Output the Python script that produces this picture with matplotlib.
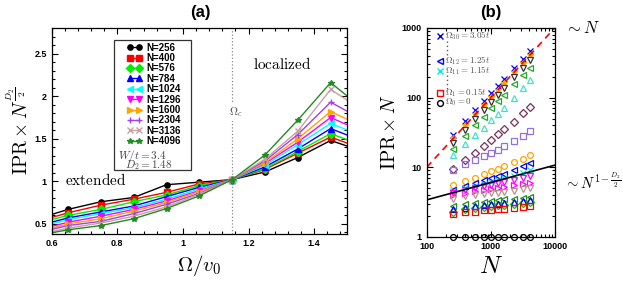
import numpy as np
import matplotlib
matplotlib.use("Agg")
import matplotlib.pyplot as plt
from matplotlib.ticker import AutoMinorLocator, FixedLocator, FixedFormatter
from matplotlib.patches import Rectangle

plt.rcParams['mathtext.fontset'] = 'cm'
plt.rcParams['font.family'] = ['Liberation Sans', 'DejaVu Sans']

# ---------------- panel (a) data ----------------
omega_a = [0.55, 0.65, 0.75, 0.85, 0.95, 1.05, 1.15, 1.25, 1.35, 1.45, 1.55]
sizes_a = ['N=256', 'N=400', 'N=576', 'N=784', 'N=1024', 'N=1296',
           'N=1600', 'N=2304', 'N=3136', 'N=4096']
ipr_a = [
    [0.55, 0.67, 0.76, 0.81, 0.96, 0.99, 1.02, 1.11, 1.28, 1.48, 1.35],
    [0.52, 0.63, 0.72, 0.79, 0.87, 0.97, 1.02, 1.14, 1.33, 1.52, 1.38],
    [0.50, 0.60, 0.67, 0.76, 0.84, 0.95, 1.02, 1.15, 1.35, 1.56, 1.42],
    [0.47, 0.57, 0.64, 0.71, 0.82, 0.93, 1.02, 1.17, 1.38, 1.62, 1.47],
    [0.45, 0.55, 0.62, 0.69, 0.79, 0.91, 1.02, 1.19, 1.43, 1.68, 1.53],
    [0.42, 0.52, 0.59, 0.67, 0.77, 0.89, 1.02, 1.21, 1.46, 1.75, 1.58],
    [0.40, 0.50, 0.56, 0.65, 0.75, 0.88, 1.02, 1.22, 1.50, 1.82, 1.64],
    [0.39, 0.48, 0.53, 0.62, 0.73, 0.86, 1.02, 1.24, 1.55, 1.93, 1.72],
    [0.37, 0.45, 0.51, 0.59, 0.70, 0.85, 1.02, 1.26, 1.59, 2.08, 1.83],
    [0.36, 0.43, 0.48, 0.56, 0.68, 0.83, 1.02, 1.31, 1.72, 2.16, 1.85],
]
colors_a = ['black', 'red', '#00ee00', 'blue', 'cyan', 'magenta',
            '#ffa500', '#a040f0', '#c8a0a0', '#228b22']
markers_a = ['o', 's', 'D', '^', '<', 'v', '>', '+', 'x', '*']

# ---------------- panel (b) data ----------------
n_b = [256, 400, 576, 784, 1024, 1296, 1600, 2304, 3136, 4096]
ipr_b = [
    [29, 46, 66, 90, 118, 149, 184, 265, 360, 470],        # Omega_30
    [26, 40, 58, 78, 102, 130, 160, 230, 314, 410],
    [22, 34, 49, 67, 87, 110, 136, 196, 266, 348],
    [18, 28, 40, 53, 70, 88, 108, 155, 210, 270],
    [15, 21.5, 29, 37, 47, 58, 72, 100, 136, 180],
    [9.4, 12.5, 16, 20, 25, 30, 35, 45, 60, 74],
    [9.0, 11, 12.5, 14.5, 16, 17.5, 20, 24, 28, 33],
    [5.5, 6.3, 7.1, 8.0, 8.7, 9.5, 10.3, 11.8, 13.2, 15],
    [4.7, 5.3, 6.0, 6.5, 7.0, 7.6, 8.1, 9.2, 10.3, 11.5],  # Omega_12
    [4.5, 5.0, 5.4, 5.8, 6.1, 6.5, 6.9, 7.6, 8.3, 9.0],    # Omega_11
    [4.3, 4.7, 5.0, 5.3, 5.6, 5.9, 6.1, 6.6, 7.1, 7.6],
    [4.0, 4.3, 4.5, 4.7, 4.9, 5.1, 5.2, 5.5, 5.7, 6.0],
    [3.5, 3.8, 4.0, 4.1, 4.2, 4.3, 4.4, 4.6, 4.8, 5.0],
    [2.8, 3.0, 3.1, 3.2, 3.3, 3.4, 3.5, 3.5, 3.6, 3.7],
    [2.3, 2.5, 2.6, 2.7, 2.8, 2.9, 2.9, 3.0, 3.1, 3.2],
    [2.5, 2.6, 2.8, 2.9, 3.0, 3.0, 3.1, 3.2, 3.3, 3.4],
    [2.15, 2.25, 2.25, 2.4, 2.45, 2.5, 2.55, 2.6, 2.65, 2.75],  # Omega_1
    [1, 1, 1, 1, 1, 1, 1, 1, 1, 1],                        # Omega_0
]
colors_b = ['blue', '#ffa500', '#333333', '#22aa22', '#40e0d0', '#7b3060',
            '#9370db', '#ffa500', 'blue', '#00e5ee', 'magenta', 'magenta',
            '#bc8f8f', '#228b22', '#00cc00', 'blue', 'red', 'black']
markers_b = ['x', '*', 'v', '<', '^', 'D', 's', 'o', '<', 'x', 'v', '>',
             'v', '<', 'D', '^', 's', 'o']
line_n = [100, 10000]
line_lin = [10, 1000]
line_frac = [3.4, 10.7]

# legend rows of panel (b): label, index of the series it describes
key_labels = [r'$\Omega_{30}=3.05t$', r'$\Omega_{12}=1.25t$',
              r'$\Omega_{11}=1.15t$', r'$\Omega_1=0.15t$', r'$\Omega_0=0$']
key_series = [0, 8, 9, 16, 17]
key_y = [0.962, 0.842, 0.795, 0.690, 0.643]

fig = plt.figure(figsize=(6.23, 2.82), dpi=100)
axa = fig.add_axes([0.083, 0.170, 0.474, 0.730])
axb = fig.add_axes([0.685, 0.160, 0.2055, 0.741])

# ---- panel (a) ----
handles = []
for vals, c, m, lab in zip(ipr_a, colors_a, markers_a, sizes_a):
    h, = axa.plot(omega_a, vals, color=c, marker=m, ms=3.8, lw=1.0,
                  mew=1.0, label=lab)
    handles.append(h)
axa.axvline(1.15, color='#888888', ls=':', lw=0.9, zorder=0)
axa.set_xlim(0.6, 1.5)
axa.set_ylim(0.38, 2.8)
axa.xaxis.set_major_locator(FixedLocator([0.6, 0.8, 1.0, 1.2, 1.4]))
axa.xaxis.set_major_formatter(FixedFormatter(['0.6', '0.8', '1', '1.2', '1.4']))
axa.yaxis.set_major_locator(FixedLocator([0.5, 1.0, 1.5, 2.0, 2.5]))
axa.yaxis.set_major_formatter(FixedFormatter(['0.5', '1', '1.5', '2', '2.5']))
axa.xaxis.set_minor_locator(AutoMinorLocator(5))
axa.yaxis.set_minor_locator(AutoMinorLocator(5))
axa.set_xlabel(r'$\Omega/v_0$', fontsize=15, labelpad=4)
axa.set_ylabel(r'$\mathrm{IPR}\times N^{\frac{D_2}{2}}$', fontsize=14, labelpad=2)
axa.text(1.16, 1.81, r'$\Omega_c$', fontsize=8, color='#555555', ha='center',
         va='center', bbox=dict(fc='white', ec='none', pad=1))
axa.text(1.213, 2.38, r'$\mathrm{localized}$', fontsize=11, va='center')
axa.text(0.64, 1.01, r'$\mathrm{extended}$', fontsize=11, va='center')
leg = axa.legend(handles=handles, loc='upper left',
                 bbox_to_anchor=(0.255, 0.93), frameon=False,
                 prop=dict(family='Liberation Sans', weight='bold', size=7),
                 handlelength=1.55, handletextpad=0.4, labelspacing=0.04,
                 borderpad=0, borderaxespad=0, numpoints=2)
axa.add_patch(Rectangle((0.21, 0.311), 0.261, 0.631, transform=axa.transAxes,
                        fill=False, ec='#333333', lw=0.9, zorder=5))
axa.text(0.224, 0.378, r'$W/t = 3.4$', transform=axa.transAxes, fontsize=8,
         color='#444444', va='center')
axa.text(0.247, 0.335, r'$D_2 = 1.48$', transform=axa.transAxes, fontsize=8,
         color='#444444', va='center')

# ---- panel (b) ----
for vals, c, m in zip(ipr_b, colors_b, markers_b):
    filled = m in ('x', '*', '+')
    axb.plot(n_b, vals, ls='none', marker=m, ms=4.2, mew=0.9, mec=c,
             mfc=c if filled else 'none', clip_on=False)
axb.plot(line_n, line_lin, color='red', ls=(0, (4, 3)), lw=1.2)
axb.plot(line_n, line_frac, color='black', lw=1.2)
axb.set_xscale('log')
axb.set_yscale('log')
axb.set_xlim(100, 10000)
axb.set_ylim(1, 1000)
axb.xaxis.set_major_locator(FixedLocator([100, 1000, 10000]))
axb.xaxis.set_major_formatter(FixedFormatter(['100', '1000', '10000']))
axb.yaxis.set_major_locator(FixedLocator([1, 10, 100, 1000]))
axb.yaxis.set_major_formatter(FixedFormatter(['1', '10', '100', '1000']))
axb.set_xlabel(r'$N$', fontsize=18, labelpad=2)
axb.set_ylabel(r'$\mathrm{IPR}\times N$', fontsize=14, labelpad=2)

# hand-made key for panel (b)
for lab, si, yk in zip(key_labels, key_series, key_y):
    m, c = markers_b[si], colors_b[si]
    filled = m in ('x', '*', '+')
    axb.plot([0.10], [yk], transform=axb.transAxes, ls='none', marker=m,
             ms=4.2, mew=1.0, mec=c, mfc=c if filled else 'none')
    axb.text(0.14, yk, lab, transform=axb.transAxes, fontsize=6.5,
             color='#555555', va='center')
for y0, y1 in ((0.938, 0.865), (0.775, 0.710)):
    axb.plot([0.156, 0.156], [y0, y1], transform=axb.transAxes,
             color='#555555', ls=(0, (1, 2)), lw=1.0)

fig.text(0.907, 0.90, r'$\sim N$', fontsize=12, va='center')
fig.text(0.905, 0.355, r'$\sim N^{1-\frac{D_2}{2}}$', fontsize=10.5, va='center')

for ax in (axa, axb):
    ax.tick_params(which='both', direction='in', top=True, right=True,
                   labelsize=6.5, width=0.8)
    ax.tick_params(which='major', length=4)
    ax.tick_params(which='minor', length=2)
    for lab in ax.get_xticklabels() + ax.get_yticklabels():
        lab.set_fontweight('bold')
    for s in ax.spines.values():
        s.set_linewidth(0.9)

fig.text(0.321, 0.955, '(a)', fontsize=12, fontweight='bold', ha='center', va='center')
fig.text(0.788, 0.955, '(b)', fontsize=12, fontweight='bold', ha='center', va='center')

fig.savefig('out.png', dpi=100)
